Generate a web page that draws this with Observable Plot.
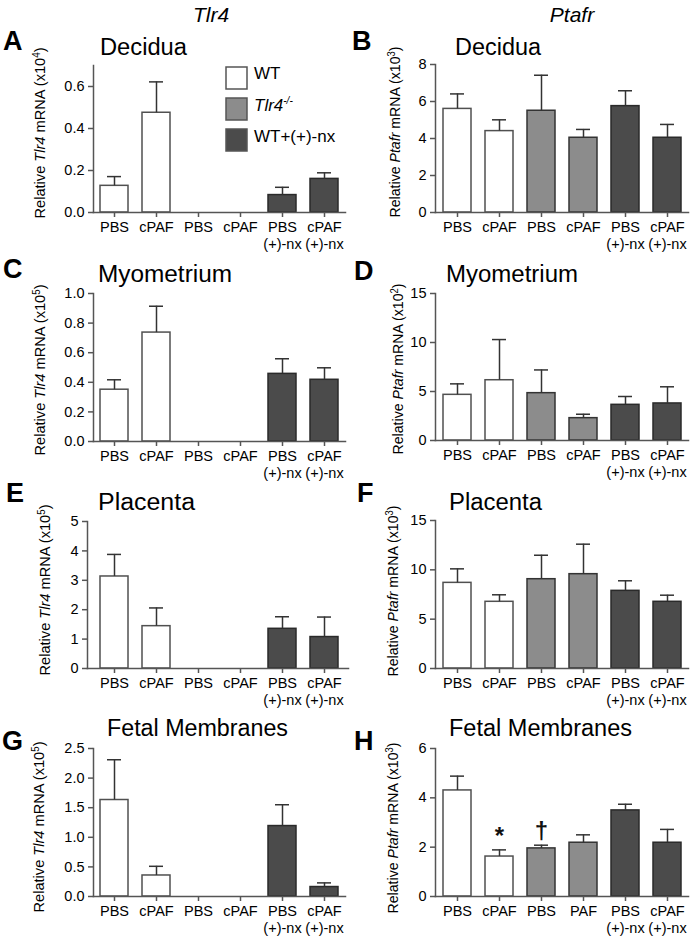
<!DOCTYPE html>
<html>
<head>
<meta charset="utf-8">
<script src="https://cdn.jsdelivr.net/npm/d3@7"></script>
<script src="https://cdn.jsdelivr.net/npm/@observablehq/plot@0.6"></script>
<style>
  body { margin: 0; background: #fff; }
  #fig { position: relative; width: 692px; height: 942px; overflow: hidden; background: #fff; font-family: "Liberation Sans", Arial, sans-serif; }
  #fig > svg { position: absolute; }
</style>
</head>
<body>
<div id="fig"></div>
<script>
// ---------- data ----------
const groups = ["WT", "Tlr4-/-", "WT+(+)-nx"];
const barGroup = [0, 0, 1, 1, 2, 2];
const tickLabels = ["PBS", "cPAF", "PBS", "cPAF", "PBS\n(+)-nx", "cPAF\n(+)-nx"];
const tickLabelsH = ["PBS", "cPAF", "PBS", "PAF", "PBS\n(+)-nx", "cPAF\n(+)-nx"];

const tlr4DeciduaMean = [0.127, 0.475, 0, 0, 0.083, 0.16];
const tlr4DeciduaErr  = [0.171, 0.622, 0, 0, 0.12, 0.189];
const ptafrDeciduaMean = [5.6, 4.4, 5.5, 4.04, 5.75, 4.04];
const ptafrDeciduaErr  = [6.41, 5.01, 7.42, 4.49, 6.58, 4.76];
const tlr4MyoMean = [0.35, 0.736, 0, 0, 0.457, 0.417];
const tlr4MyoErr  = [0.417, 0.914, 0, 0, 0.559, 0.498];
const ptafrMyoMean = [4.66, 6.15, 4.83, 2.28, 3.64, 3.78];
const ptafrMyoErr  = [5.78, 10.3, 7.2, 2.68, 4.49, 5.48];
const tlr4PlaMean = [3.13, 1.44, 0, 0, 1.35, 1.07];
const tlr4PlaErr  = [3.88, 2.06, 0, 0, 1.76, 1.75];
const ptafrPlaMean = [8.68, 6.76, 9.05, 9.56, 7.87, 6.76];
const ptafrPlaErr  = [10.1, 7.47, 11.48, 12.6, 8.89, 7.43];
const tlr4FMMean = [1.63, 0.355, 0, 0, 1.19, 0.16];
const tlr4FMErr  = [2.31, 0.51, 0, 0, 1.55, 0.23];
const ptafrFMMean = [4.3, 1.62, 1.95, 2.18, 3.49, 2.18];
const ptafrFMErr  = [4.88, 1.89, 2.08, 2.5, 3.74, 2.72];
const ptafrFMMarks = ["", "*", "\u2020", "", "", ""];

// ---------- styling ----------
const FONT = "'Liberation Sans', Arial, sans-serif";
const groupFill = ["#ffffff", "#8c8c8c", "#4b4b4b"];
const groupStroke = ["#505050", "#333333", "#2a2a2a"];

const panels = [
  {letter: "A", title: "Decidua", titleLen: 87, gene: "Tlr4", exp: "4", mean: tlr4DeciduaMean, err: tlr4DeciduaErr, yMax: 0.7, ticks: [0, 0.2, 0.4, 0.6], fmt: ".1f", labels: tickLabels,
   col: 0, axisX: 93, xStart: 93, xEnd: 345, yTop: 65, y0: 212, letterPos: [3, 50], titlePos: [100, 55], ylab: [40, 133]},
  {letter: "B", title: "Decidua", titleLen: 86, gene: "Ptafr", exp: "3", mean: ptafrDeciduaMean, err: ptafrDeciduaErr, yMax: 8, ticks: [0, 2, 4, 6, 8], fmt: "d", labels: tickLabels,
   col: 1, axisX: 435, xStart: 436, xEnd: 688, yTop: 64, y0: 212, letterPos: [352, 50], titlePos: [455, 55], ylab: [395, 132]},
  {letter: "C", title: "Myometrium", titleLen: 134, gene: "Tlr4", exp: "5", mean: tlr4MyoMean, err: tlr4MyoErr, yMax: 1.0, ticks: [0, 0.2, 0.4, 0.6, 0.8, 1.0], fmt: ".1f", labels: tickLabels,
   col: 0, axisX: 93, xStart: 93, xEnd: 345, yTop: 293, y0: 441, letterPos: [3, 278], titlePos: [98, 282], ylab: [40, 370]},
  {letter: "D", title: "Myometrium", titleLen: 132, gene: "Ptafr", exp: "2", mean: ptafrMyoMean, err: ptafrMyoErr, yMax: 15, ticks: [0, 5, 10, 15], fmt: "d", labels: tickLabels,
   col: 1, axisX: 435, xStart: 436, xEnd: 688, yTop: 293, y0: 440, letterPos: [354, 280], titlePos: [446, 282], ylab: [398, 369]},
  {letter: "E", title: "Placenta", titleLen: 97, gene: "Tlr4", exp: "5", mean: tlr4PlaMean, err: tlr4PlaErr, yMax: 5, ticks: [0, 1, 2, 3, 4, 5], fmt: "d", labels: tickLabels,
   col: 0, axisX: 87, xStart: 91, xEnd: 348, yTop: 521, y0: 668, letterPos: [6, 502], titlePos: [98, 510], ylab: [45, 590]},
  {letter: "F", title: "Placenta", titleLen: 93, gene: "Ptafr", exp: "3", mean: ptafrPlaMean, err: ptafrPlaErr, yMax: 15, ticks: [0, 5, 10, 15], fmt: "d", labels: tickLabels,
   col: 1, axisX: 435, xStart: 436, xEnd: 688, yTop: 520, y0: 668, letterPos: [357, 502], titlePos: [449, 510], ylab: [393, 591]},
  {letter: "G", title: "Fetal Membranes", titleLen: 181, gene: "Tlr4", exp: "5", mean: tlr4FMMean, err: tlr4FMErr, yMax: 2.5, ticks: [0, 0.5, 1.0, 1.5, 2.0, 2.5], fmt: ".1f", labels: tickLabels,
   col: 0, axisX: 93, xStart: 93, xEnd: 345, yTop: 748, y0: 896, letterPos: [2, 750], titlePos: [107, 736], ylab: [39, 827]},
  {letter: "H", title: "Fetal Membranes", titleLen: 183, gene: "Ptafr", exp: "3", mean: ptafrFMMean, err: ptafrFMErr, yMax: 6, ticks: [0, 2, 4, 6], fmt: "d", labels: tickLabelsH, marks: ptafrFMMarks,
   col: 1, axisX: 435, xStart: 436, xEnd: 688, yTop: 748, y0: 896, letterPos: [354, 750], titlePos: [449, 736], ylab: [393, 828]}
];

const fig = document.getElementById("fig");

function makePanel(p) {
  const left = p.col ? 346 : 0;
  const W = 356;
  const mt = 12, mb = 48;
  const data = p.mean.map((v, i) => ({i, v, e: p.err[i], g: barGroup[i], m: p.marks ? p.marks[i] : ""}));
  const bars = data.filter(d => d.v > 0);
  const marks = [
    Plot.barY(bars, {x: "i", y: "v", fill: d => groupFill[d.g], stroke: d => groupStroke[d.g], strokeWidth: 1.5}),
    Plot.ruleX(bars, {x: "i", y1: "v", y2: "e", stroke: "#333", strokeWidth: 1.5}),
    Plot.tickY(bars, {x: "i", y: "e", stroke: "#333", strokeWidth: 1.5, insetLeft: 7, insetRight: 7}),
    Plot.frame({anchor: "left", stroke: "#555", strokeWidth: 1.5}),
    Plot.frame({anchor: "bottom", stroke: "#555", strokeWidth: 1.5}),
    Plot.axisY({ticks: p.ticks, tickFormat: d3.format(p.fmt), tickSize: 5, tickPadding: 4, fontSize: 14.5, stroke: "#555", fill: "#000", strokeWidth: 1.5, label: null}),
    Plot.axisX({tickFormat: i => p.labels[i], tickSize: 5, tickPadding: 3, fontSize: 14.5, lineHeight: 1.15, stroke: "#555", fill: "#000", strokeWidth: 1.5, label: null})
  ];
  if (p.marks) {
    const ann = data.filter(d => d.m);
    marks.push(Plot.text(ann, {x: "i", y: "e", text: "m", dy: -6, lineAnchor: "bottom", fontSize: 24, fontWeight: "bold", fill: "#111"}));
  }
  const svg = Plot.plot({
    width: W,
    height: mt + (p.y0 - p.yTop) + mb,
    marginLeft: p.axisX - left,
    marginRight: W - (p.xEnd - left),
    marginTop: mt,
    marginBottom: mb,
    style: {background: "transparent", overflow: "visible", fontFamily: FONT, fontSize: "14.5px", maxWidth: "none"},
    x: {type: "band", domain: d3.range(6), paddingInner: 0.33, paddingOuter: 0.165, insetLeft: p.xStart - p.axisX},
    y: {domain: [0, p.yMax]},
    color: {type: "identity"},
    marks
  });
  svg.style.left = left + "px";
  svg.style.top = (p.yTop - mt) + "px";
  fig.appendChild(svg);
}
panels.forEach(makePanel);

// ---------- overlay text (titles, letters, y labels, legend) ----------
const ov = d3.select(fig).append("svg")
  .attr("width", 692).attr("height", 942)
  .style("left", "0px").style("top", "0px")
  .style("pointer-events", "none")
  .attr("font-family", FONT);

ov.append("text").attr("x", 211).attr("y", 22).attr("text-anchor", "middle")
  .attr("font-size", 21).attr("font-style", "italic").text("Tlr4");
ov.append("text").attr("x", 572).attr("y", 22).attr("text-anchor", "middle")
  .attr("font-size", 21).attr("font-style", "italic").text("Ptafr");

panels.forEach(p => {
  ov.append("text").attr("x", p.letterPos[0]).attr("y", p.letterPos[1])
    .attr("font-size", 27).attr("font-weight", "bold").text(p.letter);
  ov.append("text").attr("x", p.titlePos[0]).attr("y", p.titlePos[1])
    .attr("font-size", 23.5).attr("textLength", p.titleLen).attr("lengthAdjust", "spacingAndGlyphs").text(p.title);
  const t = ov.append("text")
    .attr("transform", `translate(${p.ylab[0]},${p.ylab[1]}) rotate(-90)`)
    .attr("text-anchor", "middle").attr("dy", "0.35em").attr("font-size", 15)
    .attr("textLength", 171).attr("lengthAdjust", "spacingAndGlyphs");
  t.append("tspan").text("Relative ");
  t.append("tspan").attr("font-style", "italic").text(p.gene);
  t.append("tspan").text(" mRNA (x10");
  t.append("tspan").attr("font-size", 10).attr("dy", -5).text(p.exp);
  t.append("tspan").attr("dy", 5).text(")");
});

// legend in panel A
const legendRows = [
  {label: groups[0], y: 67, base: 79},
  {label: groups[1], y: 98, base: 111},
  {label: groups[2], y: 129, base: 142}
];
legendRows.forEach((r, k) => {
  ov.append("rect").attr("x", 226).attr("y", r.y).attr("width", 21).attr("height", 22)
    .attr("fill", groupFill[k]).attr("stroke", "#555").attr("stroke-width", 1.5);
  const t = ov.append("text").attr("x", 254).attr("y", r.base).attr("font-size", 17);
  if (k === 1) {
    t.append("tspan").attr("font-style", "italic").text("Tlr4");
    t.append("tspan").attr("font-style", "italic").attr("font-size", 10).attr("dy", -7).text("-/-");
  } else {
    t.text(r.label);
  }
});
</script>
</body>
</html>
